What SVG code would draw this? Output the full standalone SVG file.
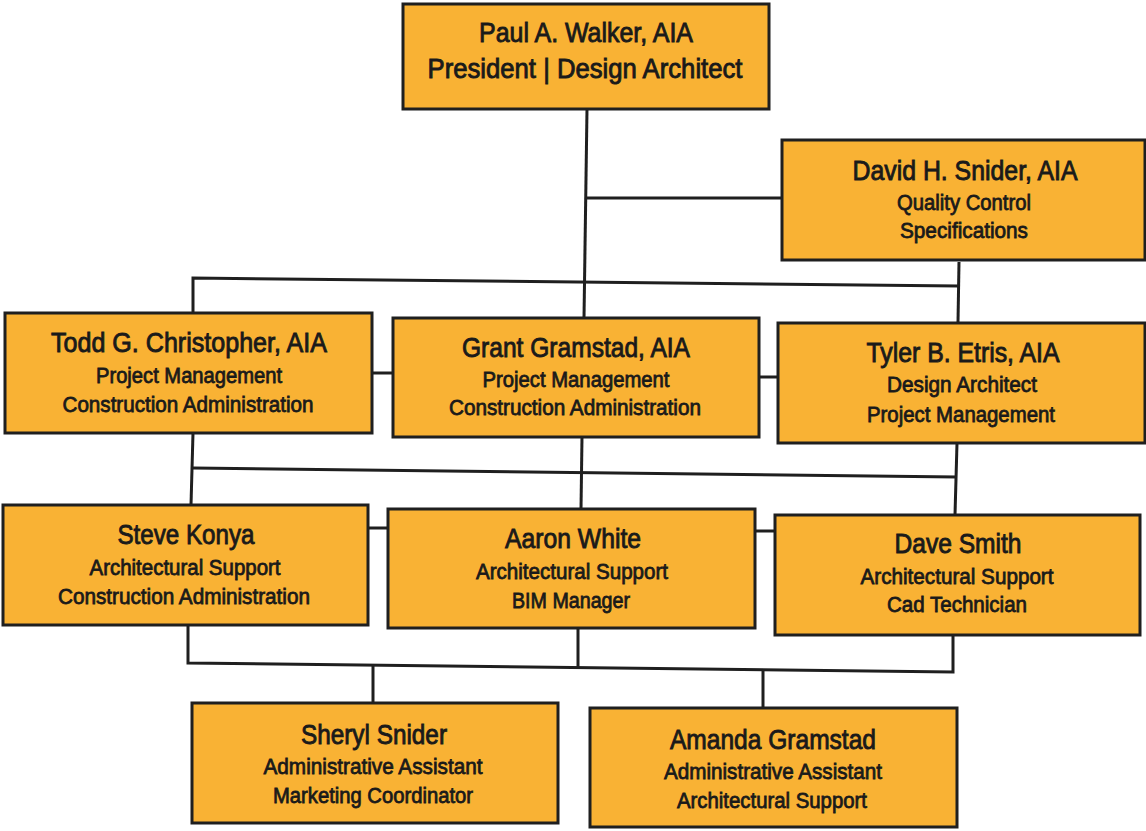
<svg xmlns="http://www.w3.org/2000/svg" width="1146" height="831" viewBox="0 0 1146 831">
<style>
.box{fill:#F9B234;stroke:#1f1f1f;stroke-width:3}
.ln{fill:none;stroke:#1f1f1f;stroke-width:3}
text{font-family:"Liberation Sans Narrow","Liberation Sans",Arial,sans-serif;fill:#1a1a1a;stroke:#1a1a1a;text-anchor:middle}
.nm{font-size:28px;stroke-width:0.9}
.sb{font-size:22px;stroke-width:0.8}
</style>
<rect width="1146" height="831" fill="#ffffff"/>
<g id="connectors">
<path class="ln" d="M587 109 L584 318"/>
<path class="ln" d="M587 198 H782"/>
<path class="ln" d="M959 262 L958 322"/>
<path class="ln" d="M193 313 V278 L959 286"/>
<path class="ln" d="M372 373 H393"/>
<path class="ln" d="M759 377 H778"/>
<path class="ln" d="M193 468 L957 477"/>
<path class="ln" d="M193 433 L191 505"/>
<path class="ln" d="M582 437 L581 509"/>
<path class="ln" d="M957 443 L955 515"/>
<path class="ln" d="M368 528 H388"/>
<path class="ln" d="M755 531 H775"/>
<path class="ln" d="M188 625 V663 L953 672 V635"/>
<path class="ln" d="M578 628 V667"/>
<path class="ln" d="M373 666 V703"/>
<path class="ln" d="M763 670 V708"/>
</g>
<g id="paul">
<rect class="box" x="403" y="4" width="366" height="105"/>
<text class="nm" x="586" y="42" textLength="214" lengthAdjust="spacingAndGlyphs">Paul A. Walker, AIA</text>
<text class="nm" x="585" y="78" textLength="315" lengthAdjust="spacingAndGlyphs">President | Design Architect</text>
</g>
<g id="david">
<rect class="box" x="782" y="140" width="363" height="120"/>
<text class="nm" x="965" y="180" textLength="225" lengthAdjust="spacingAndGlyphs">David H. Snider, AIA</text>
<text class="sb" x="964" y="210" textLength="134" lengthAdjust="spacingAndGlyphs">Quality Control</text>
<text class="sb" x="964" y="238" textLength="128" lengthAdjust="spacingAndGlyphs">Specifications</text>
</g>
<g id="todd">
<rect class="box" x="5" y="313" width="367" height="120"/>
<text class="nm" x="189" y="352" textLength="276" lengthAdjust="spacingAndGlyphs">Todd G. Christopher, AIA</text>
<text class="sb" x="189" y="383" textLength="186" lengthAdjust="spacingAndGlyphs">Project Management</text>
<text class="sb" x="188" y="412" textLength="251" lengthAdjust="spacingAndGlyphs">Construction Administration</text>
</g>
<g id="grant">
<rect class="box" x="393" y="318" width="366" height="119"/>
<text class="nm" x="576" y="357" textLength="228" lengthAdjust="spacingAndGlyphs">Grant Gramstad, AIA</text>
<text class="sb" x="576" y="387" textLength="187" lengthAdjust="spacingAndGlyphs">Project Management</text>
<text class="sb" x="575" y="415" textLength="252" lengthAdjust="spacingAndGlyphs">Construction Administration</text>
</g>
<g id="tyler">
<rect class="box" x="778" y="323" width="367" height="120"/>
<text class="nm" x="963" y="362" textLength="193" lengthAdjust="spacingAndGlyphs">Tyler B. Etris, AIA</text>
<text class="sb" x="962" y="392" textLength="150" lengthAdjust="spacingAndGlyphs">Design Architect</text>
<text class="sb" x="961" y="422" textLength="188" lengthAdjust="spacingAndGlyphs">Project Management</text>
</g>
<g id="steve">
<rect class="box" x="3" y="505" width="365" height="120"/>
<text class="nm" x="186" y="544" textLength="137" lengthAdjust="spacingAndGlyphs">Steve Konya</text>
<text class="sb" x="185" y="575" textLength="191" lengthAdjust="spacingAndGlyphs">Architectural Support</text>
<text class="sb" x="184" y="604" textLength="252" lengthAdjust="spacingAndGlyphs">Construction Administration</text>
</g>
<g id="aaron">
<rect class="box" x="388" y="509" width="367" height="119"/>
<text class="nm" x="573" y="548" textLength="136" lengthAdjust="spacingAndGlyphs">Aaron White</text>
<text class="sb" x="572" y="579" textLength="192" lengthAdjust="spacingAndGlyphs">Architectural Support</text>
<text class="sb" x="571" y="608" textLength="118" lengthAdjust="spacingAndGlyphs">BIM Manager</text>
</g>
<g id="dave">
<rect class="box" x="775" y="515" width="365" height="120"/>
<text class="nm" x="958" y="553" textLength="127" lengthAdjust="spacingAndGlyphs">Dave Smith</text>
<text class="sb" x="957" y="584" textLength="193" lengthAdjust="spacingAndGlyphs">Architectural Support</text>
<text class="sb" x="957" y="612" textLength="140" lengthAdjust="spacingAndGlyphs">Cad Technician</text>
</g>
<g id="sheryl">
<rect class="box" x="192" y="703" width="366" height="120"/>
<text class="nm" x="374" y="744" textLength="146" lengthAdjust="spacingAndGlyphs">Sheryl Snider</text>
<text class="sb" x="373" y="774" textLength="219" lengthAdjust="spacingAndGlyphs">Administrative Assistant</text>
<text class="sb" x="373" y="803" textLength="200" lengthAdjust="spacingAndGlyphs">Marketing Coordinator</text>
</g>
<g id="amanda">
<rect class="box" x="590" y="708" width="367" height="119"/>
<text class="nm" x="773" y="749" textLength="206" lengthAdjust="spacingAndGlyphs">Amanda Gramstad</text>
<text class="sb" x="773" y="779" textLength="218" lengthAdjust="spacingAndGlyphs">Administrative Assistant</text>
<text class="sb" x="772" y="808" textLength="190" lengthAdjust="spacingAndGlyphs">Architectural Support</text>
</g>
</svg>
